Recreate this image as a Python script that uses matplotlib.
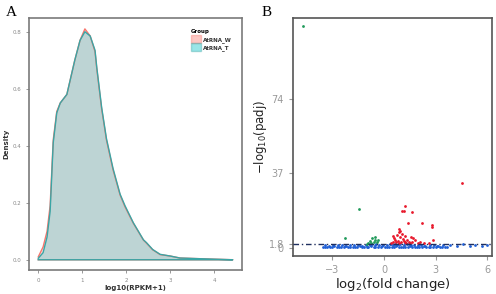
import matplotlib
matplotlib.use('Agg')
import matplotlib.pyplot as plt
from matplotlib.patches import Patch

plt.rcParams['font.family'] = ['DejaVu Sans']
plt.rcParams['mathtext.default'] = 'regular'

# Panel A: density of log10(RPKM+1)
dens_x = [0.0, 0.11, 0.2, 0.27, 0.34, 0.42, 0.5, 0.65, 0.83, 0.95, 1.06, 1.18, 1.29, 1.33,
          1.44, 1.55, 1.70, 1.86, 1.97, 2.16, 2.39, 2.46, 2.6, 2.77, 3.0, 3.22, 3.6, 4.0, 4.42]
dens_w = [0.01, 0.045, 0.10, 0.19, 0.42, 0.52, 0.55, 0.58, 0.70, 0.77, 0.81, 0.785, 0.73, 0.67,
          0.53, 0.42, 0.315, 0.227, 0.186, 0.128, 0.069, 0.058, 0.035, 0.018, 0.013, 0.006, 0.004, 0.002, 0.0]
dens_t = [0.005, 0.025, 0.08, 0.17, 0.41, 0.515, 0.55, 0.58, 0.70, 0.77, 0.80, 0.785, 0.735, 0.675,
          0.535, 0.425, 0.32, 0.23, 0.19, 0.13, 0.07, 0.06, 0.036, 0.019, 0.013, 0.006, 0.004, 0.002, 0.0]
groups = ['AtRNA_W', 'AtRNA_T']

# Panel B: volcano plot
blue_x = [-3.55, -3.4, -3.3, -3.15, -3.0, -2.9, -2.75, -2.6, -2.5, -2.35, -2.2, -2.1, -1.95, -1.8,
          -1.7, -1.55, -1.4, -1.3, -1.15, -1.0, -0.9, -0.75, -0.6, -0.5, -0.35, -0.2, -0.1, 0.05,
          0.2, 0.3, 0.45, 0.6, 0.7, 0.85, 1.0, 1.1, 1.25, 1.4, 1.5, 1.65, 1.8, 1.9, 2.05, 2.2,
          2.3, 2.45, 2.6, 2.7, 2.85, 3.0, 3.1, 3.25, 3.4, 3.55, 3.65,
          -3.45, -3.2, -2.95, -2.7, -2.45, -2.25, -2.0, -1.75, -1.5, -1.25, -1.05, -0.8, -0.55,
          -0.3, -0.05, 0.15, 0.35, 0.55, 0.75, 0.95, 1.15, 1.35, 1.55, 1.75, 1.95, 2.15, 2.4,
          2.65, 2.9, 3.15, 3.45,
          0.4, 0.65, 0.9, 1.2, 1.45, -0.45, -0.7,
          3.85, 4.25, 4.6, 5.0, 5.3, 5.7, 6.0]
blue_y = [0.3, 0.5, 0.2, 0.4, 0.3, 0.6, 0.2, 0.5, 0.3, 0.4, 0.6, 0.2, 0.5, 0.3,
          0.4, 0.2, 0.6, 0.3, 0.5, 0.2, 0.4, 0.6, 0.3, 0.5, 0.2, 0.4, 0.6, 0.3,
          0.5, 0.2, 0.4, 0.3, 0.6, 0.2, 0.5, 0.3, 0.4, 0.2, 0.6, 0.3, 0.5, 0.2, 0.4, 0.3,
          0.6, 0.2, 0.5, 0.3, 0.4, 0.2, 0.6, 0.3, 0.5, 0.2, 0.4,
          1.2, 1.0, 1.3, 1.1, 1.4, 1.0, 1.2, 1.3, 1.1, 1.0, 1.4, 1.2, 1.5,
          1.3, 1.1, 1.4, 1.6, 1.2, 1.5, 1.7, 1.3, 1.6, 1.2, 1.4, 1.1, 1.3, 1.0,
          1.2, 1.1, 1.0, 1.2,
          1.9, 2.0, 1.8, 2.1, 1.9, 1.8, 1.9,
          1.2, 0.6, 1.6, 0.9, 1.5, 0.7, 1.3]
red_x = [4.53, 1.22, 1.03, 1.16, 1.61, 1.41, 2.19, 2.79, 2.79, 0.87, 2.87,
         0.5, 0.6, 0.7, 0.75, 0.8, 0.9, 0.95, 1.0, 1.05, 1.1, 1.15, 1.2, 1.3, 1.35, 1.45,
         1.55, 1.65, 1.8, 1.95, 2.1, 0.4, 0.65, 0.85, 1.25, 1.5, 0.55, 0.95, 1.7, 2.3, 2.6]
red_y = [32.3, 20.7, 18.4, 18.2, 17.9, 12.4, 12.1, 11.3, 10.1, 9.1, 3.8,
         3.0, 4.5, 2.6, 6.0, 3.5, 7.5, 5.0, 2.8, 6.8, 4.2, 3.2, 5.5, 2.5, 4.0, 3.0,
         5.2, 2.7, 3.6, 2.4, 2.9, 2.3, 3.8, 2.2, 2.6, 2.3, 5.8, 8.0, 4.6, 2.5, 2.2]
green_x = [-4.7, -1.44, -2.27, -0.9, -0.8, -0.7, -0.6, -0.5, -0.4, -0.35, -0.75, -0.55, -1.0]
green_y = [110.0, 19.2, 4.6, 2.5, 3.5, 4.8, 3.0, 4.0, 2.6, 3.8, 2.2, 5.2, 2.0]
padj_cut = 1.8

fig = plt.figure(figsize=(4.96, 2.94), dpi=100)

# ---- Panel A
ax1 = fig.add_axes([0.0585, 0.0816, 0.4294, 0.857])
pink, cyan = '#F8766D', '#00BFC4'
ax1.fill(dens_x + [dens_x[-1], dens_x[0]], dens_w + [0, 0], facecolor=pink, alpha=0.25, edgecolor='none')
ax1.fill(dens_x + [dens_x[-1], dens_x[0]], dens_t + [0, 0], facecolor=cyan, alpha=0.25, edgecolor='none')
ax1.plot(dens_x + [dens_x[-1], dens_x[0]], dens_w + [0, 0], color=pink, lw=1.0)
ax1.plot(dens_x + [dens_x[-1], dens_x[0]], dens_t + [0, 0], color='#3aa5a5', lw=1.0)
ax1.set_xlim(-0.21, 4.63)
ax1.set_ylim(-0.036, 0.848)
ax1.set_xticks([0, 1, 2, 3, 4])
ax1.set_yticks([0.0, 0.2, 0.4, 0.6, 0.8])
ax1.set_yticklabels(['0.0', '0.2', '0.4', '0.6', '0.8'])
ax1.tick_params(labelsize=4, colors='#888888', length=2, width=0.6)
for s in ax1.spines.values():
    s.set_color('#7a7a7a')
    s.set_linewidth(1.2)
ax1.set_xlabel('log10(RPKM+1)', fontsize=5, fontweight='bold', color='#333333', labelpad=2)
ax1.set_ylabel('Density', fontsize=5, fontweight='bold', color='#333333', labelpad=2)
handles = [Patch(facecolor=pink, alpha=0.4, edgecolor=pink, label=groups[0]),
           Patch(facecolor=cyan, alpha=0.4, edgecolor='#3aa5a5', label=groups[1])]
leg = ax1.legend(handles=handles, title='Group', loc='upper right', bbox_to_anchor=(0.97, 0.97),
                 frameon=False, fontsize=4, title_fontsize=4, handlelength=1.8, handleheight=1.8,
                 handletextpad=0.3, labelspacing=0.1, borderpad=0.2)
leg.get_title().set_fontweight('bold')
leg._legend_box.align = 'left'
for t in leg.get_texts():
    t.set_fontweight('bold')
    t.set_color('#333333')
fig.text(0.012, 0.945, 'A', fontsize=11, family='Liberation Serif')

# ---- Panel B
ax2 = fig.add_axes([0.5907, 0.1293, 0.4012, 0.8095])
ax2.scatter(blue_x, blue_y, s=4, color='#1f5fd6', linewidths=0, zorder=2)
ax2.scatter(red_x, red_y, s=4, color='#e8192c', linewidths=0, zorder=3)
ax2.scatter(green_x, green_y, s=4, color='#1f9a5a', linewidths=0, zorder=3)
ax2.axhline(padj_cut, color='#1f2f5f', lw=1.0, ls=(0, (4, 2, 1, 2)), zorder=4)
ax2.set_xlim(-5.29, 6.28)
ax2.set_ylim(-4.2, 114.2)
ax2.set_xticks([-3, 0, 3, 6])
ax2.set_yticks([0, 1.8, 37, 74])
ax2.set_yticklabels(['0', '1.8', '37', '74'])
ax2.tick_params(labelsize=7, colors='#999999', length=3, width=0.8)
for s in ax2.spines.values():
    s.set_color('#555555')
    s.set_linewidth(1.2)
ax2.set_xlabel('log$_2$(fold change)', fontsize=9.5, color='#222222', labelpad=1)
ax2.set_ylabel('\u2212log$_{10}$(padj)', fontsize=8.5, color='#222222', labelpad=0)
fig.text(0.528, 0.945, 'B', fontsize=11, family='Liberation Serif')

plt.savefig('out.png', dpi=100)
